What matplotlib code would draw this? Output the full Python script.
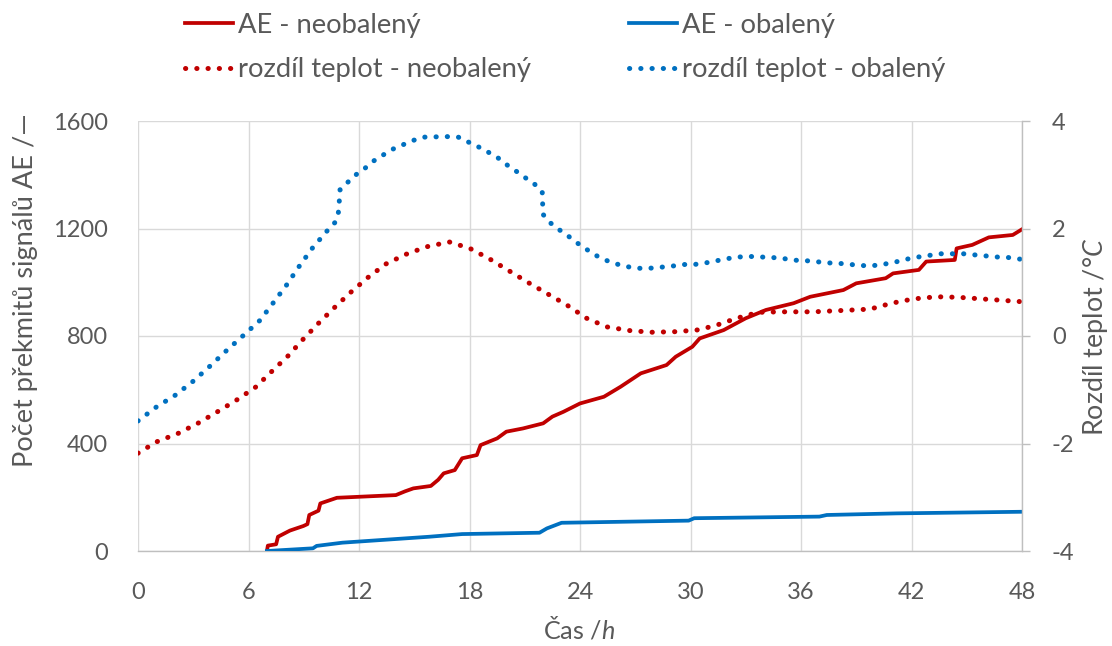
import matplotlib
matplotlib.use("Agg")
import matplotlib.pyplot as plt
from matplotlib.ticker import FixedLocator, FuncFormatter

plt.rcParams['font.family'] = ['Lato', 'DejaVu Sans']
plt.rcParams['axes.unicode_minus'] = False
plt.rcParams['mathtext.fontset'] = 'custom'
plt.rcParams['mathtext.it'] = 'Lato:italic'
plt.rcParams['mathtext.rm'] = 'Lato'

# Cumulative AE counts (hours, count)
ae_neob_t = [7.0, 7.05, 7.5, 7.6, 8.25, 8.98, 9.2, 9.3, 9.8, 9.9, 10.8, 14.0, 14.5, 14.95,
             15.9, 16.3, 16.6, 17.2, 17.6, 18.4, 18.6, 19.5, 20.0, 20.9, 22.0, 22.5, 23.1,
             24.0, 25.3, 26.2, 27.3, 28.7, 29.2, 30.1, 30.5, 31.8, 33.0, 34.1, 35.6, 36.5,
             38.3, 39.0, 40.6, 41.0, 42.4, 42.8, 44.35, 44.45, 45.3, 46.2, 47.5, 48.0]
ae_neob = [0, 20, 25, 53, 76, 93, 100, 134, 150, 177, 198, 208, 222, 233,
           242, 265, 289, 301, 345, 357, 394, 419, 444, 456, 475, 500, 518,
           549, 574, 611, 661, 692, 723, 760, 791, 822, 866, 897, 922, 946,
           971, 996, 1015, 1033, 1046, 1077, 1083, 1126, 1139, 1167, 1176, 1197]

ae_ob_t = [7.0, 9.5, 9.7, 11.1, 15.8, 17.6, 21.8, 22.2, 23.0, 29.9, 30.2, 37.0, 37.4, 41.2, 48.0]
ae_ob = [0, 10, 19, 31, 53, 63, 68, 84, 105, 113, 122, 128, 134, 140, 146]

# Temperature difference (hours, °C)
dt_neob_t = [0.0, 1.0, 2.19, 3.27, 4.31, 5.36, 6.39, 7.26, 8.12, 8.94, 9.81, 10.67, 11.54,
             12.49, 13.46, 14.55, 15.67, 16.9, 18.02, 19.11, 20.16, 21.21, 22.26, 23.27,
             24.36, 25.45, 26.72, 27.89, 29.16, 30.33, 31.32, 32.5, 33.68, 34.86, 36.67,
             38.57, 39.75, 40.92, 42.1, 43.37, 44.55, 45.82, 47.08, 47.9]
dt_neob = [-2.18, -1.97, -1.81, -1.62, -1.41, -1.19, -0.95, -0.66, -0.38, -0.07, 0.24, 0.53,
           0.81, 1.09, 1.34, 1.52, 1.66, 1.75, 1.63, 1.43, 1.21, 0.99, 0.78, 0.58,
           0.33, 0.17, 0.10, 0.07, 0.08, 0.11, 0.19, 0.33, 0.44, 0.45, 0.45,
           0.48, 0.50, 0.61, 0.69, 0.73, 0.72, 0.69, 0.66, 0.64]

dt_ob_t = [0.0, 1.0, 2.03, 3.0, 3.91, 4.81, 5.72, 6.62, 7.35, 8.07, 8.76, 9.48, 10.28, 10.69,
           10.88, 10.93, 10.97, 11.42, 11.87, 12.32, 12.81, 13.32, 13.86, 14.4, 14.95, 15.54,
           16.76, 17.39, 17.93, 18.48, 19.02, 19.56, 20.05, 20.56, 21.05, 21.55, 21.95, 21.97,
           22.0, 22.37, 22.86, 23.36, 23.81, 24.32, 24.86, 25.4, 25.98, 26.56, 27.16, 27.76,
           28.39, 29.0, 29.6, 30.2, 30.82, 31.42, 32.01, 32.63, 33.23, 33.84, 34.46, 35.07,
           35.69, 36.31, 36.91, 37.51, 38.12, 38.72, 39.34, 39.94, 40.57, 41.17, 41.75, 42.37,
           42.97, 43.59, 44.2, 44.81, 45.41, 46.03, 46.63, 47.26, 47.9]
dt_ob = [-1.58, -1.32, -1.10, -0.84, -0.56, -0.27, 0.01, 0.29, 0.62, 0.95, 1.30, 1.64, 1.96, 2.11,
         2.30, 2.51, 2.72, 2.87, 3.01, 3.12, 3.26, 3.37, 3.48, 3.56, 3.64, 3.70,
         3.71, 3.70, 3.61, 3.52, 3.42, 3.31, 3.18, 3.06, 2.94, 2.82, 2.68, 2.47,
         2.26, 2.11, 1.98, 1.86, 1.74, 1.62, 1.50, 1.41, 1.34, 1.29, 1.26, 1.26,
         1.28, 1.30, 1.33, 1.33, 1.36, 1.40, 1.44, 1.47, 1.48, 1.47, 1.46, 1.44,
         1.41, 1.40, 1.38, 1.36, 1.35, 1.33, 1.31, 1.31, 1.34, 1.38, 1.43, 1.47,
         1.50, 1.53, 1.53, 1.53, 1.51, 1.49, 1.47, 1.46, 1.43]

x_ticks = [0, 6, 12, 18, 24, 30, 36, 42, 48]
y_ticks = [0, 400, 800, 1200, 1600]
y2_ticks = [-4, -2, 0, 2, 4]

label_left = 'Počet překmitů signálů AE /—'
label_right = 'Rozdíl teplot /°$C$'
label_x = 'Čas /$h$'

RED = '#C00000'
BLUE = '#0070C0'
TXT = '#595959'
GRID = '#D9D9D9'
FS = 17

W, H = 1112, 646
fig = plt.figure(figsize=(W / 100, H / 100), dpi=100)
renderer = fig.canvas.get_renderer()


def size_for_width(text, width_px, base=20):
    """Font size (pt) at which `text` spans `width_px` pixels."""
    t = fig.text(0, 0, text, fontsize=base)
    w = t.get_window_extent(renderer).width
    t.remove()
    return base * width_px / w


ax = fig.add_axes([138 / W, 1 - 551 / H, (1022 - 138) / W, (551 - 121) / H])
ax2 = ax.twinx()

lw = 2.7
dot_lw = 3.6
dots = (0, (0.05, 2.2))
l1, = ax.plot(ae_neob_t, ae_neob, color=RED, lw=lw, solid_joinstyle='round',
              label='AE - neobalený', zorder=3)
l2, = ax.plot(ae_ob_t, ae_ob, color=BLUE, lw=lw, solid_joinstyle='round',
              label='AE - obalený', zorder=3)
l3, = ax2.plot(dt_neob_t, dt_neob, color=RED, lw=dot_lw, linestyle=dots,
               dash_capstyle='round', label='rozdíl teplot - neobalený')
l4, = ax2.plot(dt_ob_t, dt_ob, color=BLUE, lw=dot_lw, linestyle=dots,
               dash_capstyle='round', label='rozdíl teplot - obalený')

ax.set_xlim(0, 48)
ax.set_ylim(0, 1600)
ax2.set_ylim(-4, 4)
ax.xaxis.set_major_locator(FixedLocator(x_ticks))
ax.yaxis.set_major_locator(FixedLocator(y_ticks))
ax2.yaxis.set_major_locator(FixedLocator(y2_ticks))
ax2.yaxis.set_major_formatter(FuncFormatter(lambda v, p: f"{int(v)}"))

ax.grid(True, color=GRID, lw=1.0)
ax.set_axisbelow(True)
for a in (ax, ax2):
    for s in a.spines.values():
        s.set_visible(False)
ax2.spines['right'].set_visible(True)
ax2.spines['right'].set_color('#BFBFBF')
ax2.spines['right'].set_linewidth(1.0)
ax.spines['bottom'].set_visible(True)
ax.spines['bottom'].set_color('#BFBFBF')
ax.spines['bottom'].set_linewidth(1.0)

ax.tick_params(axis='x', length=0, pad=22, labelsize=FS, labelcolor=TXT)
ax.tick_params(axis='y', length=0, pad=21.5, labelsize=FS, labelcolor=TXT)
ax2.tick_params(axis='y', length=6, width=1.0, color='#BFBFBF', pad=15.5,
                labelsize=FS, labelcolor=TXT)

# axis titles
fs_left = size_for_width(label_left, 354)
fs_right = size_for_width(label_right, 198)
fs_x = size_for_width(label_x, 72)
fig.text(26 / W, 1 - 290 / H, label_left, rotation=90,
         ha='center', va='center', fontsize=fs_left, color=TXT)
fig.text(1095 / W, 1 - 337 / H, label_right, rotation=90,
         ha='center', va='center', fontsize=fs_right, color=TXT)
fig.text(579 / W, 1 - 629 / H, label_x, ha='center', va='center',
         fontsize=fs_x, color=TXT)

# legend: two columns, handles 48 px long, row pitch 45 px
fs_leg = size_for_width('rozdíl teplot - neobalený', 294)
em = fs_leg * 100 / 72


def make_legend(anchor_top, spacing):
    lg = fig.legend(handles=[l1, l3, l2, l4], ncol=2, frameon=False,
                    loc='upper left', bbox_to_anchor=(185 / W, anchor_top),
                    borderpad=0, borderaxespad=0, fontsize=fs_leg,
                    handlelength=48 / em, handletextpad=5 / em,
                    columnspacing=98 / em, labelspacing=spacing)
    for t in lg.get_texts():
        t.set_color(TXT)
    return lg


leg = make_legend(1 - 8 / H, 0.8)
fig.canvas.draw()
ts = leg.get_texts()
b0 = ts[0].get_window_extent(renderer)
b1 = ts[1].get_window_extent(renderer)
pitch = (b0.y0 + b0.y1) / 2 - (b1.y0 + b1.y1) / 2
spacing = 0.8 + (45 - pitch) / em
row1_center = H - (b0.y0 + b0.y1) / 2
leg.remove()
leg = make_legend(1 - (8 + 25 - row1_center) / H, spacing)

fig.savefig('out.png', dpi=100)
